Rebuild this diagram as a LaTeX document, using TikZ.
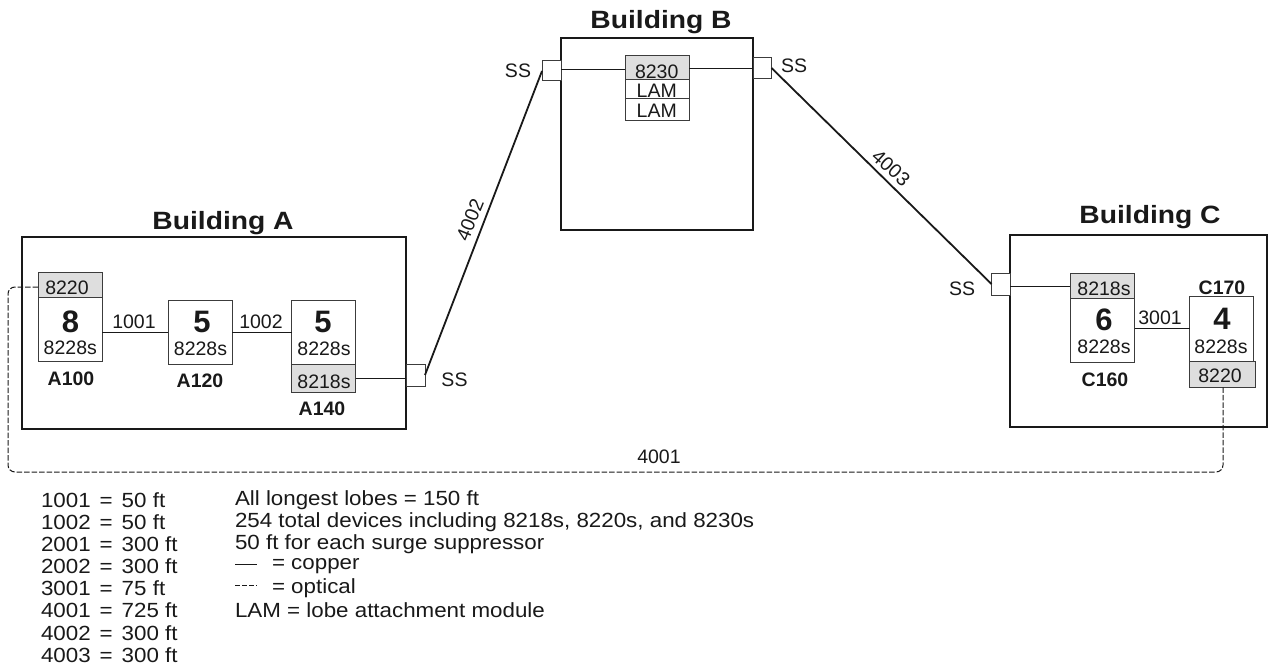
\documentclass[tikz,border=0pt]{standalone}
\usepackage{fontspec}
\setmainfont{Liberation Sans}
\newfontfamily\widefont[FakeStretch=1.13]{Liberation Sans}
\newfontfamily\legfont[FakeStretch=1.09]{Liberation Sans}
\newcommand{\myeq}{\hspace{9pt}=\hspace{9pt}}
\definecolor{ink}{gray}{0.1}
\definecolor{shade}{gray}{0.87}
\tikzset{
  x=1pt,y=-1pt,
  every node/.style={text=ink,inner sep=0pt,outer sep=0pt},
  bldg/.style={draw=ink,line width=1.8pt},
  box/.style={draw=ink!85,line width=1pt,fill=white},
  gbox/.style={draw=ink!85,line width=1pt,fill=shade},
  cu/.style={draw=ink,line width=.95pt},
  trunk/.style={draw=ink,line width=1.8pt},
  opt/.style={draw=ink,line width=1pt,dash pattern=on 5.5pt off 2pt,rounded corners=7pt},
  title/.style={font=\widefont\fontsize{25}{27}\selectfont\bfseries},
  num/.style={font=\fontsize{31}{33}\selectfont\bfseries},
  lab/.style={font=\fontsize{19.5}{21}\selectfont},
  tag/.style={font=\fontsize{19.5}{21}\selectfont\bfseries},
  leg/.style={font=\legfont\fontsize{20.5}{22}\selectfont,anchor=west},
}
\begin{document}
\begin{tikzpicture}
\useasboundingbox (0,0) rectangle (1270,669);
% buildings
\draw[bldg] (22,237) rectangle (406,429);
\draw[bldg] (561,38) rectangle (753,230);
\draw[bldg] (1010,235) rectangle (1267,427);
\node[title] (tA) at (223,223) {Building A};
\node[title] (tB) at (661,22) {Building B};
\node[title] (tC) at (1150,217) {Building C};
% surge suppressors
\draw[box] (406,364) rectangle (425,386);
\coordinate (ssAin) at (406,378); \coordinate (ssAout) at (425,375);
\draw[box] (542,61) rectangle (561,81);
\coordinate (ssBlin) at (561,69); \coordinate (ssBlout) at (542,71);
\draw[box] (753,58) rectangle (771.5,79);
\coordinate (ssBrin) at (753,68); \coordinate (ssBrout) at (771.5,68);
\draw[box] (991.5,273.5) rectangle (1010,295);
\coordinate (ssCin) at (1010,286); \coordinate (ssCout) at (991.5,284);
% A100
\draw[gbox] (38,272) rectangle (102.5,297);
\draw[box] (38,297) rectangle (102,361);
\coordinate (a100o) at (38,287); \coordinate (a100r) at (102,332);
\node[lab] (a1) at (67,288) {8220};
\node[num] (a2) at (70.5,322) {8};
\node[lab] (a3) at (70.3,348) {8228s};
\node[tag] (a4) at (71,379) {A100};
% A120
\draw[box] (168,300) rectangle (232,364);
\coordinate (a120l) at (168,332); \coordinate (a120r) at (232,332);
\node[num] (b2) at (202,322) {5};
\node[lab] (b3) at (200.5,349) {8228s};
\node[tag] (b4) at (200,381) {A120};
% A140
\draw[box] (291.5,300) rectangle (355.5,364);
\draw[gbox] (291.5,364) rectangle (355.5,392);
\coordinate (a140l) at (291.5,332); \coordinate (a140r) at (355.5,378);
\node[num] (c2) at (323,322) {5};
\node[lab] (c3) at (324,349) {8228s};
\node[lab] (c5) at (324,382) {8218s};
\node[tag] (c4) at (322,409) {A140};
% B stack
\draw[gbox] (625,56) rectangle (689,80);
\draw[box] (625,80) rectangle (689,99);
\draw[box] (625,99) rectangle (689,120);
\coordinate (b8l) at (625,69); \coordinate (b8r) at (689,68);
\node[lab] (d1) at (656.7,72) {8230};
\node[lab] (d2) at (656.7,91) {LAM};
\node[lab] (d3) at (656.7,111) {LAM};
% C160
\draw[gbox] (1070,273) rectangle (1134.5,298);
\draw[box] (1070,298) rectangle (1134.5,362);
\coordinate (c160t) at (1070,286); \coordinate (c160r) at (1134.5,328);
\node[lab] (e1) at (1104,289) {8218s};
\node[num] (e2) at (1104,320) {6};
\node[lab] (e3) at (1104,347) {8228s};
\node[tag] (e4) at (1105,380) {C160};
% C170
\draw[box] (1189.5,296) rectangle (1253.5,361);
\draw[gbox] (1189.5,361) rectangle (1255,387);
\coordinate (c170l) at (1189.5,328); \coordinate (c170o) at (1223,387);
\node[tag] (f4) at (1222,288) {C170};
\node[num] (f2) at (1222,319) {4};
\node[lab] (f3) at (1221,347) {8228s};
\node[lab] (f5) at (1220,376) {8220};
% copper links
\draw[cu] (a100r) -- (a120l);
\node[lab] (l1) at (134,322) {1001};
\draw[cu] (a120r) -- (a140l);
\node[lab] (l2) at (261,322) {1002};
\draw[cu] (a140r) -- (ssAin);
\draw[cu] (ssBlin) -- (b8l);
\draw[cu] (b8r) -- (ssBrin);
\draw[cu] (ssCin) -- (c160t);
\draw[cu] (c160r) -- (c170l);
\node[lab] (l3) at (1160,318) {3001};
% trunks
\draw[trunk] (ssAout) -- (ssBlout);
\draw[trunk] (ssBrout) -- (ssCout);
\node[lab,rotate=68] (l4) at (470,220) {4002};
\node[lab,rotate=-42] (l5) at (891,168) {4003};
% optical
\coordinate (bl) at (8,472); \coordinate (br) at (1223,472); \coordinate (tl) at (8,287);
\draw[opt] (a100o) -- (tl) -- (bl) -- (br) -- (c170o);
\node[lab] (l6) at (659,457) {4001};
% SS labels
\node[lab] (s1) at (454.5,380) {SS};
\node[lab] (s2) at (518,71) {SS};
\node[lab] (s3) at (794,66) {SS};
\node[lab] (s4) at (962,289) {SS};
% legend left
\node[leg] (g1) at (41,500) {1001\myeq{}50 ft};
\node[leg] (g2) at (41,522) {1002\myeq{}50 ft};
\node[leg] (g3) at (41,544.5) {2001\myeq{}300 ft};
\node[leg] (g4) at (41,566.5) {2002\myeq{}300 ft};
\node[leg] (g5) at (41,588.5) {3001\myeq{}75 ft};
\node[leg] (g6) at (41,610.5) {4001\myeq{}725 ft};
\node[leg] (g7) at (41,633) {4002\myeq{}300 ft};
\node[leg] (g8) at (41,655.5) {4003\myeq{}300 ft};
% legend right
\node[leg] (h1) at (235,500) {All longest lobes = 150 ft};
\node[leg] (h2) at (235,522) {254 total devices including 8218s, 8220s, and 8230s};
\node[leg] (h3) at (235,544.5) {50 ft for each surge suppressor};
\node[leg] (h4) at (272,566.5) {= copper};
\node[leg] (h5) at (272,588.5) {= optical};
\node[leg] (h6) at (235,610.5) {LAM = lobe attachment module};
\coordinate (k1) at (235,564); \coordinate (k2) at (257,564);
\coordinate (k3) at (235,585); \coordinate (k4) at (257,585);
\draw[draw=ink,line width=.8pt] (k1) -- (k2);
\draw[draw=ink,line width=.8pt,dash pattern=on 5pt off 2pt] (k3) -- (k4);
\end{tikzpicture}
\end{document}
